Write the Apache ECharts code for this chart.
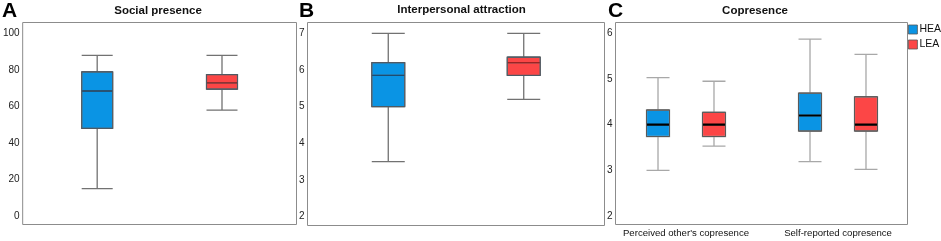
<!DOCTYPE html>
<html>
<head>
<meta charset="utf-8">
<script src="https://cdn.jsdelivr.net/npm/echarts@6.0.0/dist/echarts.min.js"></script>
<style>
  html, body { margin: 0; padding: 0; background: #fff; }
  #main { width: 941px; height: 241px; }
</style>
</head>
<body>
<div id="main"></div>
<script>
// values: [min, Q1, median, Q3, max]
const groups = ['HEA', 'LEA'];
const groupColors = ['#0a94e4', '#fc4646'];

const socialTicks = [0, 20, 40, 60, 80, 100];
const socialHEA = [15, 48, 68.5, 79, 88];
const socialLEA = [58, 69.5, 73, 77.5, 88];

const attractionTicks = [2, 3, 4, 5, 6, 7];
const attractionHEA = [3.5, 5.0, 5.85, 6.2, 7.0];
const attractionLEA = [5.2, 5.85, 6.2, 6.35, 7.0];

const copresenceTicks = [2, 3, 4, 5, 6];
const copresenceCats = ["Perceived other's copresence", 'Self-reported copresence'];
const copresenceHEA = [[3.0, 3.74, 4.0, 4.32, 5.03], [3.19, 3.86, 4.2, 4.69, 5.87]];
const copresenceLEA = [[3.53, 3.74, 4.0, 4.27, 4.95], [3.02, 3.86, 4.0, 4.61, 5.54]];

const FONT = '"Liberation Sans", Arial, sans-serif';
const FRAME = '#8c8c8c';

// panel layout: grid rect, y range, box width, line colours
const panels = [
    { left: 20.5, width: 276, height: 202, min: -4.66, max: 106.03, ticks: socialTicks,
      cats: [''], hea: [socialHEA], lea: [socialLEA], boxW: 31,
      whisker: '#727272', border: '#4f5a64', medians: ['#1b4c72', '#9b2424'], medW: 1.3, frame: true },
    { left: 307.5, width: 297, height: 203, min: 1.76, max: 7.294, ticks: attractionTicks,
      cats: [''], hea: [attractionHEA], lea: [attractionLEA], boxW: 33,
      whisker: '#727272', border: '#4f5a64', medians: ['#1b4c72', '#9b2424'], medW: 1.3, frame: true },
    { left: 623.9, width: 124.2, height: 202, min: 1.814, max: 6.236, ticks: copresenceTicks,
      cats: [copresenceCats[0]], hea: [copresenceHEA[0]], lea: [copresenceLEA[0]], boxW: 23,
      whisker: '#a8a8a8', border: '#5a5a5a', medians: ['#000', '#000'], medW: 2.2, yOffset: 8.4 },
    { left: 775.9, width: 124.2, height: 202, min: 1.814, max: 6.236, ticks: copresenceTicks,
      cats: [copresenceCats[1]], hea: [copresenceHEA[1]], lea: [copresenceLEA[1]], boxW: 23,
      whisker: '#a8a8a8', border: '#5a5a5a', medians: ['#000', '#000'], medW: 2.2, hideY: true }
];

const grid = [], xAxis = [], yAxis = [], series = [];

panels.forEach(function (p, g) {
    grid.push({
        left: p.left, top: 22.5, width: p.width, height: p.height,
        show: !!p.frame, borderColor: FRAME, borderWidth: 1, backgroundColor: 'transparent'
    });
    // three stacked layers per panel: full box, box outline, median line
    for (let l = 0; l < 3; l++) {
        xAxis.push({
            type: 'category', gridIndex: g, data: p.cats, show: l === 0,
            axisLine: { show: false }, axisTick: { show: false },
            axisLabel: { show: g >= 2, margin: 4, color: '#111', fontSize: 9.6, fontFamily: FONT }
        });
    }
    yAxis.push({
        type: 'value', gridIndex: g, min: p.min, max: p.max, show: !p.hideY,
        offset: p.yOffset || 0,
        axisLine: { show: false }, axisTick: { show: false }, splitLine: { show: false },
        axisLabel: { customValues: p.ticks, margin: 3, color: '#222', fontSize: 10, fontFamily: FONT }
    });

    [p.hea, p.lea].forEach(function (vals, k) {
        const name = groups[k];
        const boxOnly = vals.map(function (v) { return [v[1], v[1], v[2], v[3], v[3]]; });
        const medOnly = vals.map(function (v) { return [v[2], v[2], v[2], v[2], v[2]]; });
        series.push({
            name: name, type: 'boxplot', xAxisIndex: g * 3, yAxisIndex: g,
            data: vals, boxWidth: [p.boxW, p.boxW], silent: true,
            itemStyle: { color: groupColors[k], borderColor: p.whisker, borderWidth: 1.3 }
        });
        series.push({
            name: name + ' box', type: 'boxplot', xAxisIndex: g * 3 + 1, yAxisIndex: g,
            data: boxOnly, boxWidth: [p.boxW, p.boxW], silent: true,
            itemStyle: { color: 'rgba(0,0,0,0)', borderColor: p.border, borderWidth: 1 }
        });
        series.push({
            name: name + ' median', type: 'boxplot', xAxisIndex: g * 3 + 2, yAxisIndex: g,
            data: medOnly, boxWidth: [p.boxW - 1, p.boxW - 1], silent: true,
            itemStyle: { color: 'rgba(0,0,0,0)', borderColor: p.medians[k], borderWidth: p.medW }
        });
    });
});

const titleStyle = { fontSize: 11.5, fontWeight: 'bold', color: '#111', fontFamily: FONT };
const letterStyle = { fontSize: 21, fontWeight: 'bold', color: '#000', fontFamily: FONT };

const option = {
    animation: false,
    backgroundColor: '#fff',
    title: [
        { text: 'A', left: 2, top: 1, textStyle: letterStyle, padding: 0 },
        { text: 'B', left: 299, top: 1, textStyle: letterStyle, padding: 0 },
        { text: 'C', left: 608, top: 1, textStyle: letterStyle, padding: 0 },
        { text: 'Social presence', left: 158, top: 5, textAlign: 'center', textStyle: titleStyle, padding: 0 },
        { text: 'Interpersonal attraction', left: 461.5, top: 4, textAlign: 'center', textStyle: titleStyle, padding: 0 },
        { text: 'Copresence', left: 755, top: 5, textAlign: 'center', textStyle: titleStyle, padding: 0 }
    ],
    legend: {
        orient: 'vertical', left: 908, top: 24, padding: 0, itemGap: 4,
        itemWidth: 9, itemHeight: 9, icon: 'rect',
        textStyle: { fontSize: 10.5, color: '#111', fontFamily: FONT, padding: [0, 0, 0, -3] },
        data: groups.map(function (g, i) {
            return { name: g, itemStyle: { color: groupColors[i], borderColor: '#555', borderWidth: 0.8 } };
        })
    },
    graphic: [{
        type: 'rect', silent: true,
        shape: { x: 615.5, y: 22.5, width: 292, height: 202 },
        style: { fill: 'none', stroke: FRAME, lineWidth: 1 }
    }],
    grid: grid,
    xAxis: xAxis,
    yAxis: yAxis,
    series: series
};

const chart = echarts.init(document.getElementById('main'), null, { renderer: 'canvas' });
chart.setOption(option);
</script>
</body>
</html>
